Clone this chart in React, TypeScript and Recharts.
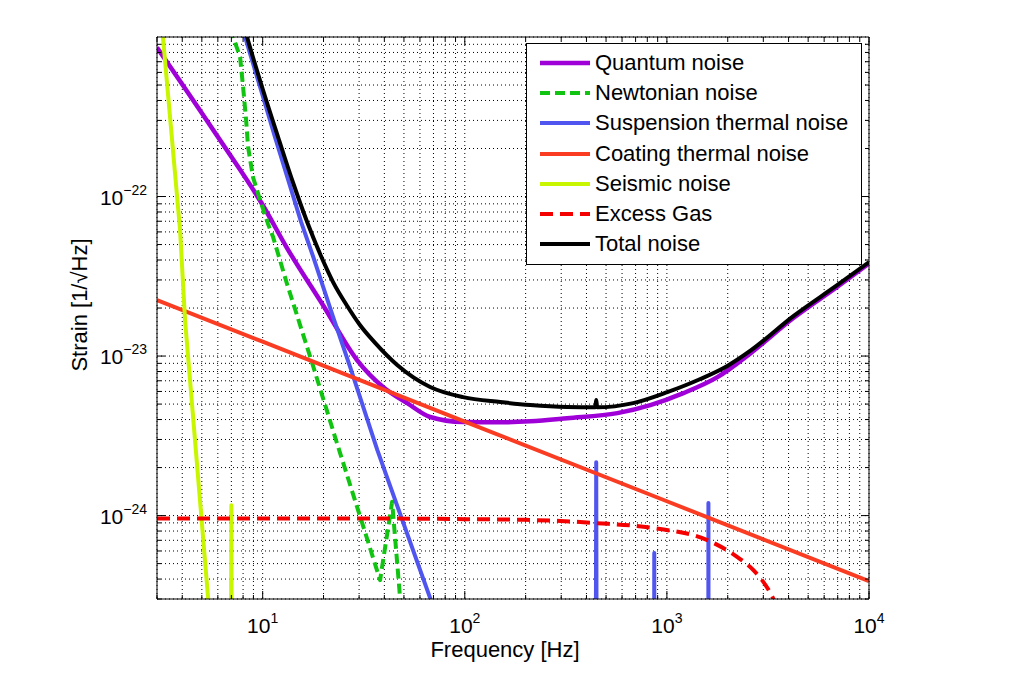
import { LineChart, Line, XAxis, YAxis, CartesianGrid, Legend } from "recharts";

const FONT = '"Liberation Sans", Arial, Helvetica, sans-serif';

// plot box in page pixels
const LEFT = 157;
const RIGHT = 869;
const TOP = 37;
const BOTTOM = 599;

// frequency [Hz] / strain [1/sqrt(Hz)]
const quantumF = [3, 6.15, 10, 13.2, 19.9, 29.3, 39.4, 51.9, 67.4, 98, 150, 211, 321, 569, 828, 1207, 1778, 2590, 4225, 6983, 10000];
const quantumH = [8.6e-22, 2.26e-22, 8.85e-23, 4.75e-23, 2.08e-23, 9.44e-24, 6.4e-24, 5.07e-24, 4.15e-24, 3.86e-24, 3.84e-24, 3.9e-24, 4.08e-24, 4.39e-24, 4.93e-24, 5.86e-24, 7.38e-24, 1.04e-23, 1.73e-23, 2.72e-23, 3.8e-23];

const newtonF = [6.9, 7.14, 7.73, 8.0, 8.28, 8.47, 8.96, 9.71, 10.63, 11.26, 13.2, 17.5, 23.3, 30.4, 38.1, 43.7, 48, 50];
const newtonH = [1.13e-21, 1e-21, 7.5e-22, 4.86e-22, 3.02e-22, 2.04e-22, 1.32e-22, 9.5e-23, 6.73e-23, 5.57e-23, 2.83e-23, 9.2e-24, 2.85e-24, 9.8e-25, 3.94e-25, 1.22e-24, 2.9e-25, 1.5e-25];

const suspF = [7.8, 8.18, 9.71, 11.5, 13.5, 15.5, 17.6, 22.3, 27.1, 36.9, 67.4, 80, 200, 440, 447, 454, 860, 866, 872, 1595, 1605, 1615, 10000];
const suspH = [1.22e-21, 1e-21, 4.86e-22, 2.36e-22, 1.22e-22, 6.92e-23, 4.36e-23, 1.76e-23, 8.53e-24, 2.58e-24, 3.04e-25, 1.6e-25, 1e-27, 1e-28, 2.16e-24, 1e-28, 1e-29, 5.82e-25, 1e-29, 1e-29, 1.2e-24, 1e-29, 1e-31];

const coatF = [3, 10, 100, 1000, 10000];
const coatH = [2.24e-23, 1.23e-23, 3.88e-24, 1.23e-24, 3.88e-25];

const seisF = [3.0, 3.21, 3.9, 4.13, 5.37, 5.8, 6.9, 7.0, 7.1, 8];
const seisH = [3e-21, 1e-21, 6.2e-23, 1.68e-23, 3.04e-25, 8e-26, 1e-27, 1.16e-24, 1e-27, 1e-28];

const gasF = [3, 30, 100, 200, 297, 442, 857, 1585, 2233, 2680, 3251, 3600];
const gasH = [9.6e-25, 9.6e-25, 9.5e-25, 9.4e-25, 9.25e-25, 8.98e-25, 8.35e-25, 7.02e-25, 5.49e-25, 4.55e-25, 3.27e-25, 2.5e-25];

const totalF = [8.0, 8.37, 9.93, 11.92, 14.14, 16.6, 19.24, 22.3, 26.2, 30.35, 36.0, 46.3, 67.4, 98, 150, 211, 321, 442, 447, 452, 681, 1005, 1464, 1991, 2590, 4225, 6983, 10000];
const totalH = [1.23e-21, 1e-21, 4.86e-22, 2.36e-22, 1.22e-22, 6.92e-23, 4.36e-23, 2.91e-23, 2.06e-23, 1.56e-23, 1.21e-23, 8.79e-24, 6.4e-24, 5.53e-24, 5.15e-24, 4.93e-24, 4.79e-24, 4.77e-24, 5.3e-24, 4.77e-24, 5.07e-24, 5.94e-24, 7.18e-24, 8.67e-24, 1.08e-23, 1.78e-23, 2.79e-23, 3.88e-23];

const xDecades = [1, 10, 100, 1000, 10000];
const yDecades = [1e-25, 1e-24, 1e-23, 1e-22];

const pts = (fs: number[], hs: number[]) => fs.map((f, i) => ({ f, h: hs[i] }));

const series = [
  { name: "Quantum noise", data: pts(quantumF, quantumH), color: "#a000d8", width: 4.5, type: "monotone" },
  { name: "Newtonian noise", data: pts(newtonF, newtonH), color: "#11c411", width: 4, dash: "10 5", type: "linear" },
  { name: "Suspension thermal noise", data: pts(suspF, suspH), color: "#5055f0", width: 4, type: "linear" },
  { name: "Coating thermal noise", data: pts(coatF, coatH), color: "#fa3c23", width: 4, type: "linear" },
  { name: "Seismic noise", data: pts(seisF, seisH), color: "#c8f500", width: 4, type: "linear" },
  { name: "Excess Gas", data: pts(gasF, gasH), color: "#f40000", width: 4, dash: "13 7", type: "monotone" },
  { name: "Total noise", data: pts(totalF, totalH), color: "#000000", width: 4, type: "monotone" },
];

const xTicks: number[] = [];
xDecades.forEach((d) => {
  for (let m = 1; m <= 9; m++) {
    const v = m * d;
    if (v >= 3 && v <= 10000) xTicks.push(v);
  }
});
const yTicks: number[] = [];
yDecades.forEach((d) => {
  for (let m = 1; m <= 9; m++) {
    const v = m * d;
    if (v >= 2.99e-25 && v < 1e-21) yTicks.push(v);
  }
});

const isMajor = (v: number) => Math.abs(Math.log10(v) - Math.round(Math.log10(v))) < 1e-6;
const expOf = (v: number) => {
  const e = Math.round(Math.log10(v));
  return e < 0 ? "\u2212" + Math.abs(e) : String(e);
};

const BottomTick = ({ x, payload }: any) => {
  const v = payload.value;
  const major = isMajor(v);
  return (
    <g>
      <line x1={x} x2={x} y1={BOTTOM} y2={BOTTOM - (major ? 8 : 4)} stroke="#000" />
      {major && (
        <text x={x} y={633} textAnchor="middle" fontFamily={FONT} fontSize={21} fill="#000">
          <tspan>10</tspan>
          <tspan dy={-10} fontSize={14}>{expOf(v)}</tspan>
        </text>
      )}
    </g>
  );
};

const TopTick = ({ x, payload }: any) => {
  const major = isMajor(payload.value);
  return <line x1={x} x2={x} y1={TOP} y2={TOP + (major ? 8 : 4)} stroke="#000" />;
};

const LeftTick = ({ y, payload }: any) => {
  const v = payload.value;
  const major = isMajor(v);
  return (
    <g>
      <line x1={LEFT} x2={LEFT + (major ? 8 : 4)} y1={y} y2={y} stroke="#000" />
      {major && (
        <text x={147} y={y + 8} textAnchor="end" fontFamily={FONT} fontSize={21} fill="#000">
          <tspan>10</tspan>
          <tspan dy={-10} fontSize={14}>{expOf(v)}</tspan>
        </text>
      )}
    </g>
  );
};

const RightTick = ({ y, payload }: any) => {
  const major = isMajor(payload.value);
  return <line x1={RIGHT} x2={RIGHT - (major ? 8 : 4)} y1={y} y2={y} stroke="#000" />;
};

const XTitle = () => (
  <text x={505} y={657} textAnchor="middle" fontFamily={FONT} fontSize={22} fill="#000">
    Frequency [Hz]
  </text>
);

const YTitle = () => (
  <text x={87} y={305} textAnchor="middle" fontFamily={FONT} fontSize={22} fill="#000" transform="rotate(-90 87 305)">
    Strain [1/√Hz]
  </text>
);

const LegendBox = () => (
  <div
    style={{
      width: 336,
      height: 222,
      boxSizing: "border-box",
      border: "1px solid #000",
      background: "#fff",
      position: "relative",
      fontFamily: FONT,
      fontSize: 22,
      color: "#000",
    }}
  >
    {series.map((s, i) => (
      <div key={s.name} style={{ position: "absolute", left: 0, top: 4 + i * 30.17, height: 30, lineHeight: "30px", whiteSpace: "nowrap" }}>
        <svg width={68} height={30} style={{ position: "absolute", left: 0, top: 0 }}>
          <line x1={13} x2={63} y1={15} y2={15} stroke={s.color} strokeWidth={s.width} strokeDasharray={s.dash} />
        </svg>
        <span style={{ position: "absolute", left: 68 }}>{s.name}</span>
      </div>
    ))}
  </div>
);

export default function App() {
  return (
    <div style={{ position: "absolute", left: 0, top: 0, width: 1023, height: 676, background: "#fff" }}>
      <LineChart width={1023} height={676} margin={{ top: 27, right: 144, bottom: 37, left: 97 }}>
        <CartesianGrid xAxisId="b" yAxisId="l" stroke="#000" strokeDasharray="1 3" />
        <XAxis
          xAxisId="b"
          type="number"
          dataKey="f"
          scale="log"
          domain={[3, 10000]}
          allowDataOverflow
          ticks={xTicks}
          interval={0}
          tick={BottomTick}
          tickLine={false}
          tickSize={0}
          axisLine={{ stroke: "#000" }}
          height={40}
          label={<XTitle />}
        />
        <XAxis
          xAxisId="t"
          orientation="top"
          type="number"
          dataKey="f"
          scale="log"
          domain={[3, 10000]}
          allowDataOverflow
          ticks={xTicks}
          interval={0}
          tick={TopTick}
          tickLine={false}
          tickSize={0}
          axisLine={{ stroke: "#000" }}
          height={10}
        />
        <YAxis
          yAxisId="l"
          type="number"
          dataKey="h"
          scale="log"
          domain={[3e-25, 1e-21]}
          allowDataOverflow
          ticks={yTicks}
          interval={0}
          tick={LeftTick}
          tickLine={false}
          tickSize={0}
          axisLine={{ stroke: "#000" }}
          width={60}
          label={<YTitle />}
        />
        <YAxis
          yAxisId="r"
          orientation="right"
          type="number"
          dataKey="h"
          scale="log"
          domain={[3e-25, 1e-21]}
          allowDataOverflow
          ticks={yTicks}
          interval={0}
          tick={RightTick}
          tickLine={false}
          tickSize={0}
          axisLine={{ stroke: "#000" }}
          width={10}
        />
        {series.map((s) => (
          <Line
            key={s.name}
            xAxisId="b"
            yAxisId="l"
            data={s.data}
            dataKey="h"
            name={s.name}
            type={s.type as any}
            stroke={s.color}
            strokeWidth={s.width}
            strokeDasharray={s.dash}
            strokeLinejoin="round"
            dot={false}
            activeDot={false}
            isAnimationActive={false}
          />
        ))}
        <Legend
          layout="vertical"
          align="center"
          verticalAlign="middle"
          content={() => <LegendBox />}
          wrapperStyle={{ left: 526, top: 43, width: 336, height: 222 }}
        />
      </LineChart>
    </div>
  );
}
